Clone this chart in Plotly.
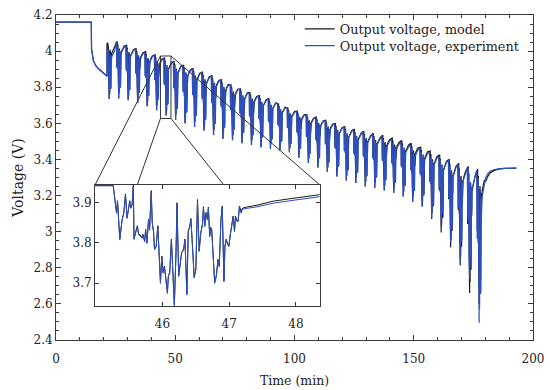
import plotly.graph_objects as go

# ---------------- data ----------------
# initial rest + first constant-load segment (min, V)
pre_t = [0.0, 14.8, 14.9, 15.3, 15.7, 16.4, 17.1, 18.5, 19.9, 21.0, 21.4]
pre_v_exp = [4.160, 4.160, 4.010, 3.970, 3.945, 3.925, 3.912, 3.894, 3.879, 3.866, 3.860]
pre_v_model = [4.160, 4.160, 4.012, 3.972, 3.947, 3.927, 3.913, 3.895, 3.880, 3.867, 3.861]

# one drive cycle as seen in the inset (min, V)
inset_t = [44.990, 45.262, 45.312, 45.327, 45.361, 45.396, 45.421, 45.446, 45.470, 45.485,
           45.510, 45.525, 45.545, 45.564, 45.574, 45.609, 45.624, 45.644, 45.668, 45.693,
           45.708, 45.733, 45.748, 45.767, 45.792, 45.807, 45.832, 45.847, 45.866, 45.881,
           45.906, 45.931, 45.955, 45.970, 45.990, 46.010, 46.030, 46.054, 46.074, 46.089,
           46.109, 46.134, 46.153, 46.178, 46.203, 46.218, 46.243, 46.262, 46.287, 46.317,
           46.337, 46.366, 46.386, 46.411, 46.426, 46.450, 46.475, 46.500, 46.525, 46.550,
           46.574, 46.599, 46.614, 46.634, 46.653, 46.673, 46.688, 46.708, 46.723, 46.738,
           46.762, 46.782, 46.807, 46.832, 46.851, 46.876, 46.896, 46.921, 46.936, 46.955,
           46.980, 46.995, 47.020, 47.045, 47.059, 47.079, 47.094, 47.119, 47.134, 47.153,
           47.178, 47.193, 47.220, 47.416, 47.663, 47.911, 48.158, 48.356]
inset_v_exp = [3.941, 3.941, 3.873, 3.902, 3.807, 3.856, 3.873, 3.918, 3.860, 3.877,
               3.902, 3.885, 3.893, 3.939, 3.808, 3.831, 3.840, 3.819, 3.817, 3.811,
               3.819, 3.802, 3.831, 3.798, 3.856, 3.831, 3.924, 3.848, 3.827, 3.782,
               3.790, 3.840, 3.749, 3.699, 3.765, 3.724, 3.740, 3.699, 3.674, 3.716,
               3.724, 3.807, 3.749, 3.643, 3.774, 3.893, 3.716, 3.740, 3.774, 3.782,
               3.807, 3.670, 3.827, 3.840, 3.858, 3.790, 3.712, 3.732, 3.902, 3.778,
               3.823, 3.844, 3.885, 3.840, 3.873, 3.856, 3.885, 3.815, 3.836, 3.831,
               3.749, 3.699, 3.716, 3.757, 3.740, 3.856, 3.885, 3.703, 3.790, 3.807,
               3.794, 3.790, 3.823, 3.856, 3.864, 3.827, 3.864, 3.852, 3.852, 3.889,
               3.873, 3.881, 3.884, 3.889, 3.898, 3.904, 3.910, 3.914]
inset_v_model = [3.942, 3.942, 3.875, 3.904, 3.809, 3.858, 3.874, 3.921, 3.862, 3.878,
                 3.904, 3.886, 3.895, 3.945, 3.810, 3.833, 3.842, 3.821, 3.819, 3.812,
                 3.821, 3.804, 3.833, 3.800, 3.858, 3.833, 3.929, 3.850, 3.829, 3.785,
                 3.792, 3.842, 3.752, 3.702, 3.767, 3.727, 3.742, 3.702, 3.677, 3.718,
                 3.726, 3.809, 3.752, 3.647, 3.776, 3.899, 3.719, 3.742, 3.776, 3.784,
                 3.809, 3.673, 3.829, 3.842, 3.860, 3.792, 3.715, 3.735, 3.907, 3.780,
                 3.825, 3.846, 3.889, 3.842, 3.875, 3.858, 3.888, 3.817, 3.838, 3.833,
                 3.752, 3.702, 3.719, 3.759, 3.742, 3.858, 3.891, 3.706, 3.792, 3.809,
                 3.796, 3.792, 3.825, 3.858, 3.866, 3.829, 3.866, 3.854, 3.854, 3.891,
                 3.876, 3.884, 3.887, 3.893, 3.903, 3.909, 3.915, 3.919]

# drive-cycle start times (min) and per-cycle rest level / minimum (V)
cycle_start = [21.40, 25.37, 29.35, 33.33, 37.31, 41.28, 45.26, 49.24, 53.21, 57.19,
               61.17, 65.15, 69.12, 73.10, 77.08, 81.05, 85.03, 89.01, 92.98, 96.96,
               100.94, 104.92, 108.89, 112.87, 116.85, 120.82, 124.80, 128.78, 132.75, 136.73,
               140.71, 144.69, 148.66, 152.64, 156.62, 160.59, 164.57, 168.55, 172.52, 176.50]
exp_peak = [4.025, 4.048, 4.030, 4.011, 3.996, 3.978, 3.960, 3.941, 3.920, 3.902,
            3.882, 3.862, 3.840, 3.812, 3.790, 3.770, 3.752, 3.735, 3.708, 3.684,
            3.666, 3.648, 3.634, 3.616, 3.598, 3.580, 3.565, 3.552, 3.539, 3.527,
            3.511, 3.496, 3.481, 3.460, 3.440, 3.418, 3.395, 3.373, 3.355, 3.340]
exp_min = [3.735, 3.738, 3.728, 3.712, 3.695, 3.672, 3.643, 3.620, 3.600, 3.580,
           3.560, 3.535, 3.515, 3.506, 3.490, 3.480, 3.468, 3.459, 3.450, 3.440,
           3.410, 3.380, 3.355, 3.330, 3.305, 3.283, 3.270, 3.250, 3.243, 3.228,
           3.215, 3.195, 3.165, 3.140, 3.080, 3.030, 2.940, 2.850, 2.740, 2.496]
model_peak = [4.045, 4.052, 4.032, 4.013, 3.997, 3.979, 3.961, 3.942, 3.921, 3.903,
              3.883, 3.863, 3.841, 3.813, 3.791, 3.771, 3.753, 3.736, 3.709, 3.685,
              3.667, 3.649, 3.635, 3.617, 3.599, 3.581, 3.567, 3.555, 3.543, 3.532,
              3.518, 3.503, 3.488, 3.467, 3.446, 3.423, 3.398, 3.375, 3.356, 3.341]
model_min = [3.735, 3.738, 3.728, 3.712, 3.695, 3.672, 3.643, 3.620, 3.600, 3.580,
             3.560, 3.535, 3.515, 3.506, 3.490, 3.480, 3.468, 3.459, 3.450, 3.440,
             3.410, 3.380, 3.355, 3.330, 3.305, 3.283, 3.270, 3.250, 3.243, 3.228,
             3.215, 3.195, 3.165, 3.140, 3.070, 2.996, 2.913, 2.812, 2.660, 2.600]

# final rest after the last cycle (min, V)
tail_t = [180.2, 181.0, 182.0, 183.5, 185.5, 188.0, 193.0]
tail_v_exp = [3.300, 3.320, 3.334, 3.343, 3.348, 3.350, 3.352]
tail_v_model = [3.280, 3.305, 3.325, 3.338, 3.346, 3.350, 3.352]

# zoom window drawn on the main axes and inset ranges
zoom_t = [43.8, 48.2]
zoom_v = [3.627, 3.973]
inset_xrange = [44.99, 48.36]
inset_yrange = [3.643, 3.943]

# ---------------- build the long series from the cycle template ----------------
def build(tmpl_t, tmpl_v, peaks, mins, pre_v, tail_v):
    t0 = tmpl_t[1]
    p_ref = tmpl_v[1]
    m_ref = min(tmpl_v)
    seg = [(a - t0, b) for a, b in zip(tmpl_t, tmpl_v) if a >= t0]
    ts = list(pre_t)
    vs = list(pre_v)
    for s, p, m in zip(cycle_start, peaks, mins):
        k = (p - m) / (p_ref - m_ref)
        for dt, v in seg:
            ts.append(s + dt)
            vs.append(p - (p_ref - v) * k)
    ts += tail_t
    vs += tail_v
    return ts, vs

t_model, v_model = build(inset_t, inset_v_model, model_peak, model_min, pre_v_model, tail_v_model)
t_exp, v_exp = build(inset_t, inset_v_exp, exp_peak, exp_min, pre_v_exp, tail_v_exp)

BLACK = "#1a1a1a"
BLUE = "#2d50c0"
AX = "#3a3a3a"
FONT = "DejaVu Serif"
TXT = "#222"

fig = go.Figure()
fig.add_trace(go.Scatter(x=t_model, y=v_model, mode="lines", name="Output voltage, model",
                         legend="legend", line=dict(color=BLACK, width=1.2)))
fig.add_trace(go.Scatter(x=t_exp, y=v_exp, mode="lines", name="Output voltage, experiment",
                         legend="legend2", line=dict(color=BLUE, width=1.2)))
fig.add_trace(go.Scatter(x=inset_t, y=inset_v_model, mode="lines", showlegend=False,
                         line=dict(color=BLACK, width=1), xaxis="x2", yaxis="y2"))
fig.add_trace(go.Scatter(x=inset_t, y=inset_v_exp, mode="lines", showlegend=False,
                         line=dict(color=BLUE, width=1), xaxis="x2", yaxis="y2"))

XR = [0, 200]
YR = [2.4, 4.2]
ins_x = [0.0818, 0.5535]
ins_y = [0.1046, 0.4769]

axis_common = dict(showgrid=False, zeroline=False, showline=True, linecolor=AX, linewidth=1,
                   ticks="inside", tickcolor=AX, mirror="allticks", automargin=False,
                   tickfont=dict(family=FONT, size=12, color=TXT))

leg_common = dict(xanchor="left", yanchor="middle", bgcolor="rgba(0,0,0,0)",
                  font=dict(family=FONT, size=12.8, color=TXT), itemwidth=30)

fig.update_layout(
    width=550, height=390,
    margin=dict(l=56, r=17, t=15, b=50),
    plot_bgcolor="white", paper_bgcolor="white",
    font=dict(family=FONT, size=12, color=TXT),
    xaxis=dict(range=XR, domain=[0, 1], tickvals=[0, 50, 100, 150, 200], ticklen=5,
               ticklabelstandoff=8,
               minor=dict(dtick=10, ticks="inside", ticklen=3, tickcolor=AX),
               title=dict(text="Time (min)", font=dict(family=FONT, size=12.5), standoff=10),
               **axis_common),
    yaxis=dict(range=YR, domain=[0, 1], dtick=0.2, tick0=2.4, ticklen=5,
               minor=dict(dtick=0.05, ticks="inside", ticklen=3, tickcolor=AX),
               title=dict(text="Voltage (V)", font=dict(family=FONT, size=14), standoff=6),
               **axis_common),
    xaxis2=dict(range=inset_xrange, domain=ins_x, anchor="y2", tickvals=[46, 47, 48],
                ticklen=4, ticklabelstandoff=7, **axis_common),
    yaxis2=dict(range=inset_yrange, domain=ins_y, anchor="x2", tickvals=[3.7, 3.8, 3.9],
                ticklen=4, **axis_common),
    legend=dict(x=0.511, y=0.957, **leg_common),
    legend2=dict(x=0.511, y=0.905, **leg_common),
    showlegend=True,
)

# zoom rectangle on the main axes
fig.add_shape(type="rect", xref="x", yref="y", x0=zoom_t[0], x1=zoom_t[1], y0=zoom_v[0], y1=zoom_v[1],
              line=dict(color="#333", width=1))

# connector lines (paper coords); inner ones stop at the inset's top edge
def to_paper(t, v):
    return (t - XR[0]) / (XR[1] - XR[0]), (v - YR[0]) / (YR[1] - YR[0])

rtl = to_paper(zoom_t[0], zoom_v[1])
rtr = to_paper(zoom_t[1], zoom_v[1])
rbl = to_paper(zoom_t[0], zoom_v[0])
rbr = to_paper(zoom_t[1], zoom_v[0])
itl = (ins_x[0], ins_y[1]); itr = (ins_x[1], ins_y[1])
ibl = (ins_x[0], ins_y[0]); ibr = (ins_x[1], ins_y[0])

def clip_top(a, b):
    f = (a[1] - ins_y[1]) / (a[1] - b[1])
    return (a[0] + f * (b[0] - a[0]), ins_y[1])

for a, b in [(rtl, itl), (rtr, itr), (rbl, clip_top(rbl, ibl)), (rbr, clip_top(rbr, ibr))]:
    fig.add_shape(type="line", xref="paper", yref="paper", x0=a[0], y0=a[1], x1=b[0], y1=b[1],
                  line=dict(color="#333", width=1))

fig.write_html("out.html", config={"displayModeBar": False},
               post_script="document.body.style.margin='0';")
